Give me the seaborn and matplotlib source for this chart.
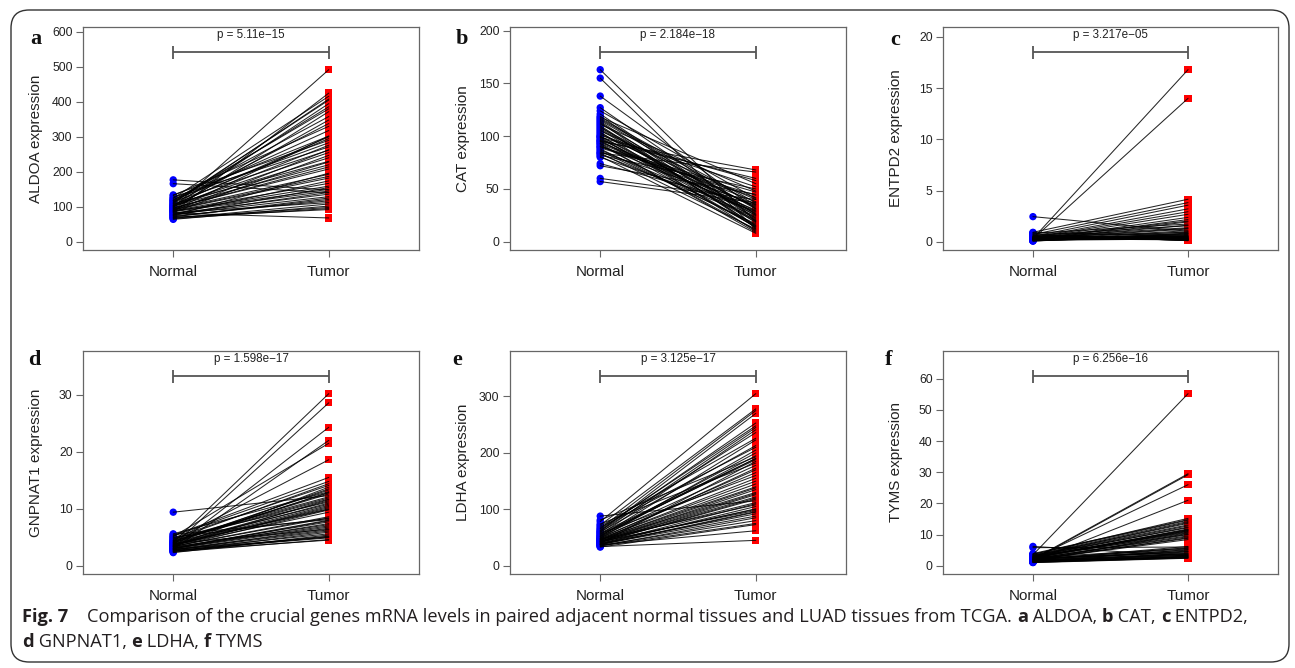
import matplotlib
matplotlib.use("Agg")
import matplotlib.pyplot as plt
import seaborn as sns
import pandas as pd
import numpy as np
from matplotlib.patches import FancyBboxPatch
from matplotlib import font_manager

# ---------------- data ----------------
genes = ["ALDOA", "CAT", "ENTPD2", "GNPNAT1", "LDHA", "TYMS"]
panel_letters = ["a", "b", "c", "d", "e", "f"]
p_values = ["5.11e\u221215", "2.184e\u221218", "3.217e\u221205",
            "1.598e\u221217", "3.125e\u221217", "6.256e\u221216"]
y_ticks = [[0, 100, 200, 300, 400, 500, 600], [0, 50, 100, 150, 200],
           [0, 5, 10, 15, 20], [0, 10, 20, 30], [0, 100, 200, 300],
           [0, 10, 20, 30, 40, 50, 60]]
groups = ["Normal", "Tumor"]

aldoa_normal = [177, 166, 132, 98, 85, 121, 110, 76, 93, 104,
                88, 117, 72, 101, 95, 128, 83, 69, 112, 90,
                79, 106, 97, 64, 124, 87, 115, 81, 99, 74,
                108, 92, 134, 70, 86, 119, 103, 78, 94, 113,
                67, 89, 100, 125, 82, 96, 75, 109, 91, 71,
                84, 118, 102, 77, 66, 88, 105]
aldoa_tumor = [148, 140, 330, 492, 425, 283, 408, 196, 372, 255,
               150, 318, 121, 395, 228, 271, 112, 98, 386, 302,
               174, 295, 208, 102, 416, 159, 262, 136, 348, 117,
               230, 187, 290, 92, 145, 358, 240, 129, 193, 405,
               108, 167, 276, 302, 68, 214, 155, 338, 182, 125,
               247, 380, 220, 141, 95, 263, 300]

cat_normal = [163, 155, 138, 127, 124, 121, 118, 116, 114, 111,
              109, 107, 105, 104, 102, 100, 99, 97, 96, 94,
              93, 91, 90, 88, 87, 85, 84, 82, 80, 74,
              72, 60, 57, 119, 113, 108, 101, 98, 95, 92,
              89, 86, 83, 117, 110, 103, 96, 93, 81, 112,
              106, 99, 115, 90, 84, 100, 95]
cat_tumor = [19, 12, 31, 26, 41, 22, 55, 35, 18, 48,
             15, 25, 40, 10, 33, 20, 58, 27, 14, 38,
             9, 30, 42, 16, 24, 36, 12, 50, 29, 35,
             45, 40, 37, 21, 13, 32, 52, 19, 28, 11,
             44, 17, 23, 37, 15, 29, 60, 34, 8, 26,
             20, 14, 31, 47, 66, 25, 68]

entpd2_normal = [2.45, 0.31, 0.27, 0.92, 0.71, 0.52, 0.41, 0.36, 0.29, 0.21,
                 0.16, 0.11, 0.83, 0.63, 0.46, 0.28, 0.23, 0.19, 0.13, 0.06,
                 0.34, 0.26, 0.39, 0.49, 0.58, 0.32, 0.18, 0.24, 0.14, 0.37,
                 0.38, 0.43, 0.47, 0.55, 0.66, 0.77, 0.88, 0.09, 0.22, 0.30,
                 0.25, 0.33, 0.17, 0.21, 0.27, 0.35, 0.44, 0.51, 0.15, 0.08,
                 0.31, 0.26, 0.34, 0.40, 0.20, 0.24, 0.29]
entpd2_tumor = [1.02, 16.8, 14.0, 4.15, 3.82, 3.57, 3.21, 2.93, 2.68, 2.38,
                2.17, 1.94, 1.73, 1.56, 1.37, 1.24, 1.08, 0.96, 0.84, 0.77,
                0.66, 0.59, 0.52, 0.47, 0.43, 0.38, 0.33, 0.31, 0.27, 0.24,
                0.22, 0.19, 0.16, 0.14, 0.12, 0.10, 0.62, 0.55, 0.48, 0.44,
                0.41, 0.36, 0.34, 0.29, 0.26, 0.23, 0.21, 0.91, 0.80, 0.71,
                1.31, 1.62, 2.02, 0.50, 0.35, 0.25, 0.18]

gnpnat1_normal = [9.4, 4.1, 3.6, 5.5, 3.2, 4.8, 2.9, 3.9, 5.1, 3.4,
                  2.6, 4.4, 3.0, 5.3, 3.7, 2.4, 4.6, 3.3, 2.8, 4.0,
                  3.5, 5.0, 2.7, 4.2, 3.1, 3.8, 4.9, 2.5, 3.6, 4.3,
                  3.0, 5.6, 2.9, 3.7, 4.5, 3.2, 2.6, 4.1, 3.4, 5.2,
                  2.8, 3.9, 4.7, 3.3, 2.3, 3.5, 4.0, 3.1, 2.7, 4.4,
                  3.6, 2.5, 4.2, 3.8, 3.0, 2.9, 3.4]
gnpnat1_tumor = [12.3, 30.2, 28.6, 8.1, 24.3, 11.2, 22.0, 6.4, 21.5, 13.8,
                 5.2, 18.6, 7.4, 15.5, 10.6, 4.6, 14.4, 9.8, 5.6, 12.9,
                 11.6, 8.3, 4.9, 13.3, 7.0, 11.0, 14.1, 5.9, 10.2, 12.6,
                 6.8, 13.0, 5.0, 9.9, 11.9, 7.7, 4.5, 10.8, 8.6, 14.8,
                 6.1, 11.4, 12.1, 7.2, 5.4, 10.4, 13.5, 8.0, 6.6, 11.7,
                 9.4, 5.1, 12.8, 10.0, 7.9, 6.3, 8.4]

ldha_normal = [88, 78, 72, 65, 58, 52, 47, 43, 40, 37,
               34, 61, 55, 49, 45, 42, 39, 36, 68, 57,
               51, 46, 41, 38, 35, 63, 54, 48, 44, 40,
               74, 59, 50, 43, 38, 66, 53, 46, 41, 37,
               70, 56, 48, 44, 39, 35, 62, 52, 45, 42,
               33, 60, 49, 43, 38, 81, 47]
ldha_tumor = [115, 305, 278, 248, 190, 223, 140, 98, 185, 62,
              45, 270, 241, 205, 173, 126, 92, 80, 210, 160,
              195, 130, 118, 88, 75, 253, 190, 150, 112, 101,
              182, 245, 165, 135, 105, 275, 200, 145, 120, 95,
              226, 188, 155, 128, 110, 85, 236, 178, 138, 100,
              73, 213, 170, 122, 96, 193, 108]

tyms_normal = [6.2, 3.5, 2.8, 2.1, 1.6, 1.2, 3.9, 2.5, 1.9, 1.4,
               5.8, 3.1, 2.3, 1.8, 1.1, 2.7, 3.3, 2.0, 1.5, 2.9,
               1.3, 2.4, 3.6, 1.7, 2.2, 1.0, 2.6, 3.0, 1.9, 2.1,
               1.5, 2.8, 3.4, 1.2, 2.0, 2.5, 1.8, 3.2, 1.4, 2.3,
               1.6, 2.7, 1.1, 2.2, 3.7, 1.3, 2.4, 1.9, 2.9, 1.7,
               2.0, 1.5, 2.6, 3.1, 1.8, 2.1, 1.4]
tyms_tumor = [3.2, 55.2, 11.5, 29.5, 10.4, 5.2, 14.8, 4.1, 29.2, 3.0,
              6.0, 12.2, 26.0, 9.0, 2.6, 11.0, 13.6, 4.7, 21.0, 10.1,
              2.8, 11.8, 15.2, 3.6, 9.6, 2.4, 5.6, 12.8, 8.4, 4.4,
              3.4, 10.8, 14.2, 2.9, 5.0, 11.2, 3.8, 13.1, 2.6, 9.3,
              4.0, 11.6, 2.5, 5.4, 14.6, 3.1, 10.6, 6.2, 12.4, 4.6,
              8.8, 3.3, 11.3, 13.9, 5.8, 10.0, 3.7]

normals = [aldoa_normal, cat_normal, entpd2_normal, gnpnat1_normal, ldha_normal, tyms_normal]
tumors = [aldoa_tumor, cat_tumor, entpd2_tumor, gnpnat1_tumor, ldha_tumor, tyms_tumor]

# ---------------- style ----------------
sns.set_style("white")
plt.rcParams["font.family"] = ["Liberation Sans", "DejaVu Sans"]

W, H = 1295, 668
fig = plt.figure(figsize=(W / 100, H / 100), dpi=100)

# outer rounded frame
frame = FancyBboxPatch((11 / W, 1 - 662 / H), (1289 - 11) / W, (662 - 10) / H,
                       boxstyle="round,pad=0,rounding_size=0.014",
                       transform=fig.transFigure, fill=False,
                       edgecolor="#333333", linewidth=1.0, mutation_aspect=W / H)
fig.patches.append(frame)

col_left = [83, 510, 943]
col_w = [336, 336, 335]
row_top = [27, 351]
ax_h = 223
letter_pos = [(30, 44), (456, 44), (890, 45), (28, 365), (452, 365), (885, 365)]
axis_col = "#666666"

for i, gene in enumerate(genes):
    r, c = divmod(i, 3)
    L, T, Wd = col_left[c], row_top[r], col_w[c]
    ax = fig.add_axes([L / W, 1 - (T + ax_h) / H, Wd / W, ax_h / H])
    normal = normals[i]
    tumor = tumors[i]
    n = len(normal)
    df = pd.DataFrame({
        "sample": list(range(n)) * 2,
        "group": [groups[0]] * n + [groups[1]] * n,
        "value": list(normal) + list(tumor),
    })
    sns.scatterplot(data=df, x="group", y="value", hue="group", style="group",
                    palette={"Normal": "#0000ff", "Tumor": "#ff0000"},
                    markers={"Normal": "o", "Tumor": "s"}, s=28, linewidth=0,
                    legend=False, ax=ax, zorder=2)
    sns.lineplot(data=df, x="group", y="value", units="sample", estimator=None,
                 sort=False, color="#000000", lw=0.75, alpha=0.85, ax=ax, zorder=3)
    m = max(max(normal), max(tumor))
    ax.set_xlim(-0.58, 1.58)
    ax.set_ylim(-0.048 * m, 1.248 * m)
    # significance bracket
    ax.hlines(1.1 * m, 0, 1, color="#555555", lw=1.3)
    ax.vlines([0, 1], 1.062 * m, 1.138 * m, color="#555555", lw=1.3)
    ax.text(0.5, 1.165 * m, "p = " + p_values[i], ha="center", va="bottom",
            fontsize=8.4, color="#222222")
    ax.set_yticks(y_ticks[i])
    ax.set_yticklabels([str(t) for t in y_ticks[i]])
    ax.set_xticks([0, 1])
    ax.set_xticklabels(groups)
    ax.tick_params(axis="y", left=True, length=5, width=0.8, color=axis_col,
                   labelsize=8.8, labelcolor="#222222", pad=2.5, direction="out")
    ax.tick_params(axis="x", bottom=True, length=5, width=0.8, color=axis_col,
                   labelsize=11, labelcolor="#222222", pad=6, direction="out")
    ax.set_xlabel("")
    ax.set_ylabel(gene + " expression", fontsize=11, color="#222222")
    ax.yaxis.set_label_coords(-40 / Wd, 0.5)
    for sp in ax.spines.values():
        sp.set_visible(True)
        sp.set_color(axis_col)
        sp.set_linewidth(0.9)
    lx, ly = letter_pos[i]
    fig.text(lx / W, 1 - ly / H, panel_letters[i], fontsize=16, fontweight="bold",
             family=["Liberation Serif", "DejaVu Serif"], ha="left", va="baseline",
             color="#111111")

# ---------------- caption ----------------
def pick_family():
    for fam in ["Liberation Sans Narrow", "Open Sans", "Liberation Sans"]:
        try:
            font_manager.findfont(font_manager.FontProperties(family=fam),
                                  fallback_to_default=False)
            return fam
        except Exception:
            continue
    return "DejaVu Sans"

cap_family = pick_family()
renderer = fig.canvas.get_renderer()

def seg_width(txt, bold, size):
    prop = font_manager.FontProperties(family=cap_family, size=size,
                                       weight="bold" if bold else "normal")
    w1, _, _ = renderer.get_text_width_height_descent("|" + txt + "|", prop, ismath=False)
    w0, _, _ = renderer.get_text_width_height_descent("||", prop, ismath=False)
    return w1 - w0

line1 = [("Fig. 7", True),
         ("    Comparison of the crucial genes mRNA levels in paired adjacent normal tissues and LUAD tissues from TCGA. ", False),
         ("a", True), (" ALDOA, ", False), ("b", True), (" CAT, ", False),
         ("c", True), (" ENTPD2,", False)]
line2 = [("d", True), (" GNPNAT1, ", False), ("e", True), (" LDHA, ", False),
         ("f", True), (" TYMS", False)]

base = 10.0
tot = sum(seg_width(t, b, base) for t, b in line1)
cap_size = base * (1252 - 22) / tot

def draw_line(segs, x0, ybase):
    x = x0
    for t, b in segs:
        fig.text(x / W, 1 - ybase / H, t, fontsize=cap_size, family=cap_family,
                 fontweight="bold" if b else "normal", ha="left", va="baseline",
                 color="#231f20")
        x += seg_width(t, b, cap_size)

draw_line(line1, 22, 622)
draw_line(line2, 22, 647)

fig.savefig("out.png", dpi=100)
